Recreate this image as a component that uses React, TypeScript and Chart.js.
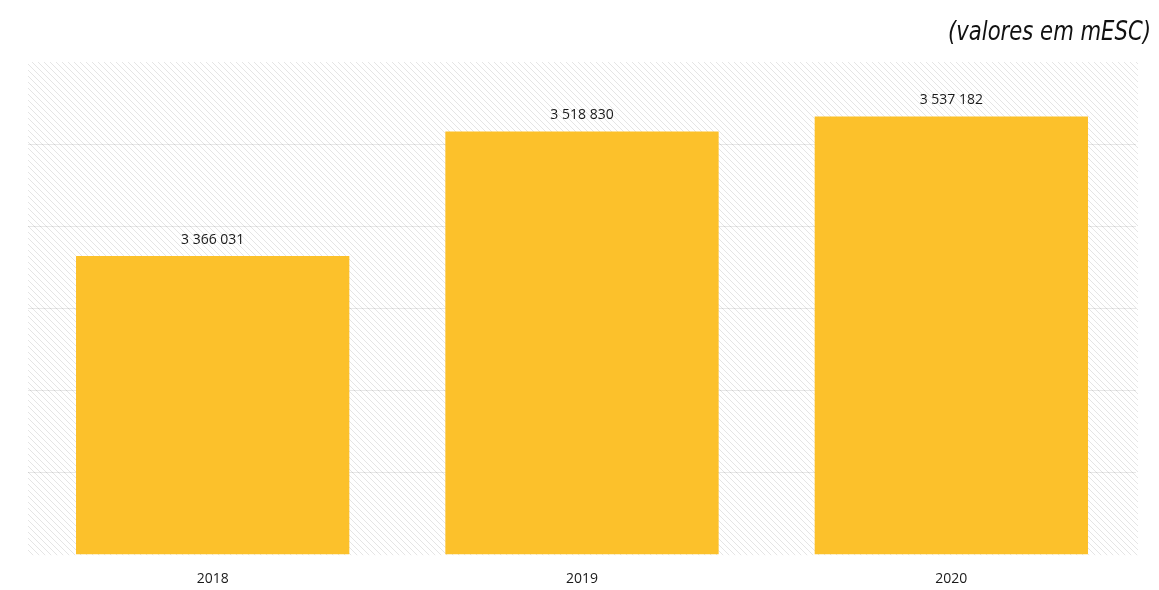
import React, { useEffect, useRef } from "react";
import { Chart, registerables } from "chart.js";

Chart.register(...registerables);

const years = ["2018", "2019", "2020"];
const values = [3366031, 3518830, 3537182];
const titleText = "(valores em mESC)";
const yMin = 3000000;
const yMax = 3604000;
const yStep = 100000;

const fmt = (v: number) =>
  String(Math.round(v)).replace(/\B(?=(\d{3})+(?!\d))/g, " ");

function makePattern(ctx: CanvasRenderingContext2D) {
  const s = 6;
  const c = document.createElement("canvas");
  c.width = s;
  c.height = s;
  const g = c.getContext("2d")!;
  g.fillStyle = "#ffffff";
  g.fillRect(0, 0, s, s);
  g.strokeStyle = "rgba(0,0,0,0.10)";
  g.lineWidth = 1;
  g.beginPath();
  g.moveTo(-1, -1);
  g.lineTo(s + 1, s + 1);
  g.moveTo(-1, s - 1);
  g.lineTo(1, s + 1);
  g.moveTo(s - 1, -1);
  g.lineTo(s + 1, 1);
  g.stroke();
  return ctx.createPattern(c, "repeat");
}

export default function App() {
  const ref = useRef<HTMLCanvasElement>(null);

  useEffect(() => {
    const canvas = ref.current!;
    const bgPlugin = {
      id: "hatchBg",
      beforeDraw(chart: any) {
        const { ctx, chartArea } = chart;
        const pat = makePattern(ctx);
        ctx.save();
        ctx.fillStyle = pat || "#f4f4f4";
        ctx.fillRect(
          chartArea.left,
          chartArea.top,
          chartArea.right - chartArea.left + 2,
          chartArea.bottom - chartArea.top + 1
        );
        ctx.restore();
      },
    };
    const labelPlugin = {
      id: "valueLabels",
      afterDatasetsDraw(chart: any) {
        const { ctx } = chart;
        const meta = chart.getDatasetMeta(0);
        ctx.save();
        ctx.font = "14px 'Open Sans', 'Noto Sans', sans-serif";
        ctx.fillStyle = "#1a1a1a";
        ctx.textAlign = "center";
        ctx.textBaseline = "bottom";
        meta.data.forEach((bar: any, i: number) => {
          ctx.fillText(fmt(values[i]), bar.x, bar.y - 9);
        });
        ctx.restore();
      },
    };
    const titlePlugin = {
      id: "cornerTitle",
      afterDraw(chart: any) {
        const { ctx } = chart;
        ctx.save();
        ctx.font = "italic 27px 'DejaVu Sans Condensed', 'Liberation Sans Narrow', sans-serif";
        ctx.fillStyle = "#111111";
        ctx.textAlign = "right";
        ctx.textBaseline = "alphabetic";
        ctx.translate(1151, 40);
        const w = ctx.measureText(titleText).width;
        const sx = Math.min(1, 203 / w);
        ctx.scale(sx, 1);
        ctx.fillText(titleText, 0, 0);
        ctx.restore();
      },
    };

    const chart = new Chart(canvas, {
      type: "bar",
      data: {
        labels: years,
        datasets: [
          {
            data: values,
            backgroundColor: "#FCC12B",
            borderWidth: 0,
            categoryPercentage: 1,
            barPercentage: 0.74,
          },
        ],
      },
      options: {
        animation: false,
        responsive: false,
        maintainAspectRatio: false,
        layout: { padding: { left: 28, right: 23, top: 62, bottom: -13 } },
        plugins: {
          legend: { display: false },
          tooltip: { enabled: false },
          title: { display: false },
        },
        scales: {
          x: {
            grid: { display: false, drawTicks: false },
            border: { display: false },
            ticks: {
              padding: 16,
              color: "#1a1a1a",
              font: { family: "'Open Sans', 'Noto Sans', sans-serif", size: 14 },
            },
          },
          y: {
            min: yMin,
            max: yMax,
            border: { display: false },
            grid: {
              drawTicks: false,
              color: (c: any) =>
                c.index === 0 || c.tick?.value === yMax ? "rgba(0,0,0,0)" : "rgba(0,0,0,0.09)",
              lineWidth: 1,
            },
            ticks: { display: false, stepSize: yStep },
          },
        },
      },
      plugins: [bgPlugin, labelPlugin, titlePlugin],
    });
    return () => chart.destroy();
  }, []);

  return (
    <div style={{ position: "fixed", left: 0, top: 0, width: 1159, height: 590, background: "#fff" }}>
      <canvas ref={ref} width={1159} height={590} style={{ width: 1159, height: 590 }} />
    </div>
  );
}
